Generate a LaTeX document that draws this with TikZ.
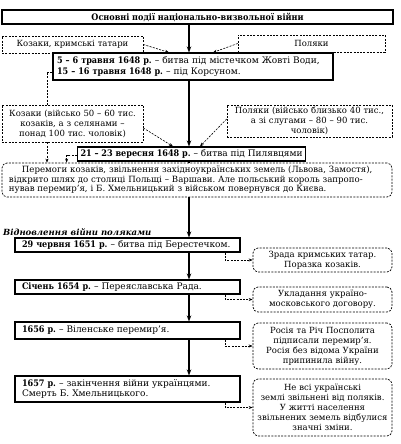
\documentclass[tikz,border=0pt]{standalone}
\usepackage{fontspec}
\setmainfont{DejaVu Serif}[BoldFont={DejaVu Serif Condensed Bold},BoldItalicFont={DejaVu Serif Bold Italic}]
\usetikzlibrary{arrows.meta}

\begin{document}
\begin{tikzpicture}[x=1pt,y=-1pt,
	txt/.style={font=\fontsize{9}{10}\selectfont\frenchspacing},
	stxt/.style={font=\fontsize{8.5}{10}\selectfont\frenchspacing},
	box/.style={txt,draw,line width=1.1pt,inner xsep=4pt,inner ysep=0pt,align=left},
	side/.style={stxt,draw,dash pattern=on 2pt off 1.3pt,line width=0.7pt,inner xsep=1pt,inner ysep=0pt,align=center},
	rside/.style={side,rounded corners=5pt},
	arr/.style={-{Stealth[length=6pt,width=4.5pt]},line width=1.1pt},
	dline/.style={dash pattern=on 2pt off 1.3pt,line width=0.6pt},
	darr/.style={dline,-{Stealth[length=4pt,width=3pt]}}]
	\useasboundingbox (0,0) rectangle (400,444);
	\coordinate (t) at (189,0);
	\coordinate (d) at (225,0);
	\coordinate (e) at (47,0);
	% main column
	\node[box,line width=1.6pt,align=center,minimum width=391pt,minimum height=14pt] (0) at (197.5,17) {\textbf{Основні події національно-визвольної війни}};
	\node[box,text width=272pt,minimum height=27pt,font=\fontsize{9}{11}\selectfont\frenchspacing] (1) at (193,66.5) {\mbox{\textbf{5 – 6 травня 1648 р.} – битва під містечком Жовті Води,}\\\textbf{15 – 16 травня 1648 р.} – під Корсуном.};
	\node[box,inner xsep=3pt,minimum width=205pt,minimum height=14pt,anchor=west] (2) at (77,154) {\textbf{21 – 23 вересня 1648 р.} – битва під Пилявцями};
	\node[rside,inner xsep=7pt,align=left,text width=376pt,minimum height=34pt,font=\fontsize{8.6}{9.5}\selectfont\frenchspacing] (3) at (197,180) {\hspace*{13pt}\makebox[363pt][s]{Перемоги козаків, звільнення західноукраїнських земель (Львова, Замостя),}\\\makebox[376pt][s]{відкрито шлях до столиці Польщі – Варшави. Але польський король запропо-}\\нував перемир’я, і Б. Хмельницький з військом повернувся до Києва.};
	\node[stxt,anchor=west,inner sep=0pt] (r) at (3,232) {\textbf{\textit{Відновлення війни поляками}}};
	\node[box,inner xsep=7pt,text width=211pt,minimum height=14pt] (4) at (127.5,245) {\mbox{\textbf{29 червня 1651 р.} – битва під Берестечком.}};
	\node[box,inner xsep=7pt,text width=211pt,minimum height=14pt] (5) at (127.5,287) {\mbox{\textbf{Січень 1654 р.} – Переяславська Рада.}};
	\node[box,inner xsep=7pt,text width=211pt,minimum height=17pt] (6) at (127.5,330.5) {\mbox{\textbf{1656 р.} – Віленське перемир’я.}};
	\node[box,inner xsep=7pt,text width=211pt,minimum height=26pt] (7) at (127.5,389) {\makebox[211pt][s]{\textbf{1657 р.} – закінчення війни українцями.}\\Смерть Б. Хмельницького.};
	% sides
	\node[side,text width=139pt,minimum height=17pt] (k1) at (72.5,44.5) {Козаки, кримські татари};
	\node[side,text width=145pt,minimum height=17pt] (p1) at (311.5,43.5) {Поляки};
	\node[side,text width=139pt,minimum height=37pt] (k2) at (72.5,123.5) {Козаки (військо 50 – 60 тис.\\козаків, а з селянами –\\понад 100 тис. чоловік)};
	\node[side,text width=163pt,minimum height=32pt] (p2) at (309.5,121) {Поляки (військо близько 40 тис.,\\а зі слугами – 80 – 90 тис.\\чоловік)};
	\node[rside,text width=137pt,minimum height=24pt] (s1) at (322.5,260) {Зрада кримських татар.\\Поразка козаків.};
	\node[rside,text width=137pt,minimum height=25pt] (s2) at (322.5,299.5) {Укладання україно-\\московського договору.};
	\node[rside,text width=137pt,minimum height=46pt] (s3) at (322.5,346) {Росія та Річ Посполита\\підписали перемир’я.\\Росія без відома України\\припинила війну.};
	\node[rside,text width=137pt,minimum height=57pt] (s4) at (322.5,407.5) {Не всі українські\\землі звільнені від поляків.\\У житті населення\\звільнених земель відбулися\\значні зміни.};
	% arrows
	\draw[arr] (0.south -| t) -- (1.north -| t);
	\draw[arr] (1.south -| t) -- (2.north -| t);
	\draw[line width=1.1pt] (2.south -| t) -- (3.north -| t);
	\draw[arr] (3.south -| t) -- (4.north -| t);
	\draw[arr] (4.south -| t) -- (5.north -| t);
	\draw[arr] (5.south -| t) -- (6.north -| t);
	\draw[arr] (6.south -| t) -- (7.north -| t);
	\draw[darr] (k1.east) -- ([xshift=-24pt]1.north);
	\draw[darr] (p1.west) -- ([xshift=20pt]1.north);
	\draw[darr] ([yshift=-4.5pt]k2.east) -- (2.north -| 173,0);
	\draw[darr] ([yshift=2pt]p2.west) -- (2.north -| 200,0);
	\draw[dline] ([yshift=-5.5pt]1.west) -| (k2.north -| e);
	\draw[darr] (k2.south -| e) -- (3.north -| e);
	\draw[darr] ([yshift=-1pt]2.west) -| ([xshift=65pt]3.north west);
	\draw[darr] (4.south -| d) |- (s1.west);
	\draw[darr] (5.south -| d) |- (s2.west);
	\draw[darr] (6.south -| d) |- (s3.west);
	\draw[darr] (7.south -| d) |- (s4.west);
\end{tikzpicture}
\end{document}
